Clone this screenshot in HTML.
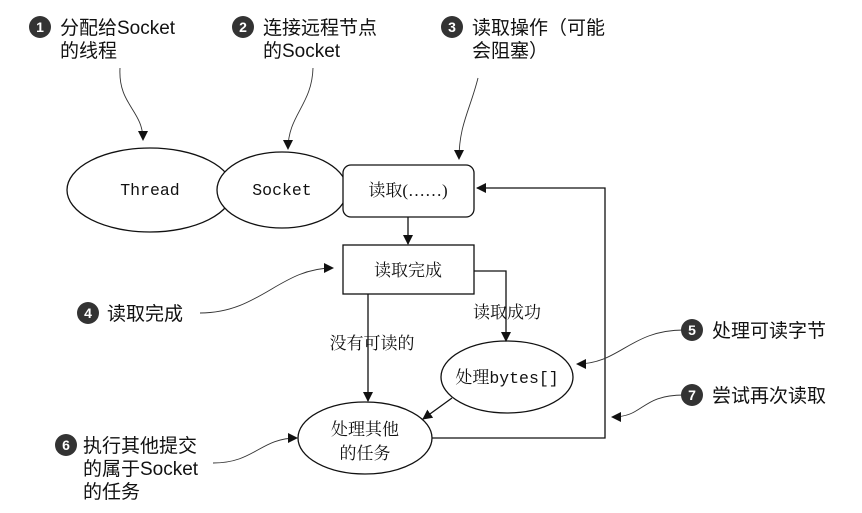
<!DOCTYPE html>
<html><head><meta charset="utf-8"><style>
html,body{margin:0;padding:0;background:#fff}
svg{display:block}
text{font-family:"Liberation Sans","Noto Sans CJK SC",sans-serif;fill:#111}
.c{font-size:19px}
.s{font-family:"Liberation Serif","Noto Serif CJK SC",serif;font-size:17px}
.m{font-family:"Liberation Mono",monospace;font-size:16.5px}
.n{fill:#fff;font-size:14px;font-weight:bold;text-anchor:middle}
</style></head><body>
<svg width="862" height="513" viewBox="0 0 862 513" xmlns="http://www.w3.org/2000/svg">
<defs><marker id="a" markerWidth="10" markerHeight="10" refX="9" refY="5" orient="auto" markerUnits="userSpaceOnUse"><path d="M0,0 L10,5 L0,10 z" fill="#111"/></marker></defs>
<g fill="#fff" stroke="#111" stroke-width="1.3">
<ellipse cx="150" cy="190" rx="83" ry="42"/>
<ellipse cx="282" cy="190" rx="65" ry="38"/>
<rect x="343" y="165" width="131" height="52" rx="8"/>
<rect x="343" y="245" width="131" height="49"/>
<ellipse cx="507" cy="377" rx="66" ry="36"/>
<ellipse cx="365" cy="438" rx="67" ry="36"/>
</g>
<g fill="none" stroke="#111" stroke-width="1.3" marker-end="url(#a)">
<path d="M408,217 L408,244"/>
<path d="M368,294 L368,401"/>
<path d="M474,271 L506,271 L506,341"/>
<path d="M452,398 L423,419"/>
<path d="M432,438 L605,438 L605,188 L477,188"/>
</g>
<g fill="none" stroke="#333" stroke-width="0.9" marker-end="url(#a)">
<path d="M120,68 C118,105 143,110 143,140"/>
<path d="M313,68 C312,105 288,115 288,149"/>
<path d="M478,78 C470,110 459,125 459,159"/>
<path d="M200,313 C260,313 280,268 333,268"/>
<path d="M213,463 C255,463 260,438 297,438"/>
<path d="M684,330 C630,330 620,364 577,364"/>
<path d="M684,395 C640,395 645,417 612,417"/>
</g>
<text class="m" x="150" y="195" text-anchor="middle">Thread</text>
<text class="m" x="282" y="195" text-anchor="middle">Socket</text>
<text class="s" x="408" y="196" text-anchor="middle">读取(……)</text>
<text class="s" x="408" y="276" text-anchor="middle">读取完成</text>
<text class="s" x="507" y="318" text-anchor="middle">读取成功</text>
<text class="s" x="372" y="349" text-anchor="middle">没有可读的</text>
<text x="507" y="383" text-anchor="middle"><tspan class="s">处理</tspan><tspan class="m">bytes[]</tspan></text>
<text class="s" x="365" y="435" text-anchor="middle">处理其他</text>
<text class="s" x="365" y="459" text-anchor="middle">的任务</text>
<g fill="#333">
<circle cx="40" cy="27" r="11"/><circle cx="243" cy="27" r="11"/><circle cx="452" cy="27" r="11"/>
<circle cx="88" cy="313" r="11"/><circle cx="66" cy="445" r="11"/>
<circle cx="692" cy="330" r="11"/><circle cx="692" cy="395" r="11"/>
</g>
<text class="n" x="40" y="32">1</text><text class="n" x="243" y="32">2</text><text class="n" x="452" y="32">3</text>
<text class="n" x="88" y="318">4</text><text class="n" x="66" y="450">6</text>
<text class="n" x="692" y="335">5</text><text class="n" x="692" y="400">7</text>
<text class="c" x="60" y="34">分配给Socket</text><text class="c" x="60" y="57">的线程</text>
<text class="c" x="263" y="34">连接远程节点</text><text class="c" x="263" y="57">的Socket</text>
<text class="c" x="472" y="34">读取操作（可能</text><text class="c" x="472" y="57">会阻塞）</text>
<text class="c" x="107" y="320">读取完成</text>
<text class="c" x="83" y="452">执行其他提交</text><text class="c" x="83" y="475">的属于Socket</text><text class="c" x="83" y="498">的任务</text>
<text class="c" x="712" y="337">处理可读字节</text>
<text class="c" x="712" y="402">尝试再次读取</text>
</svg>
</body></html>
